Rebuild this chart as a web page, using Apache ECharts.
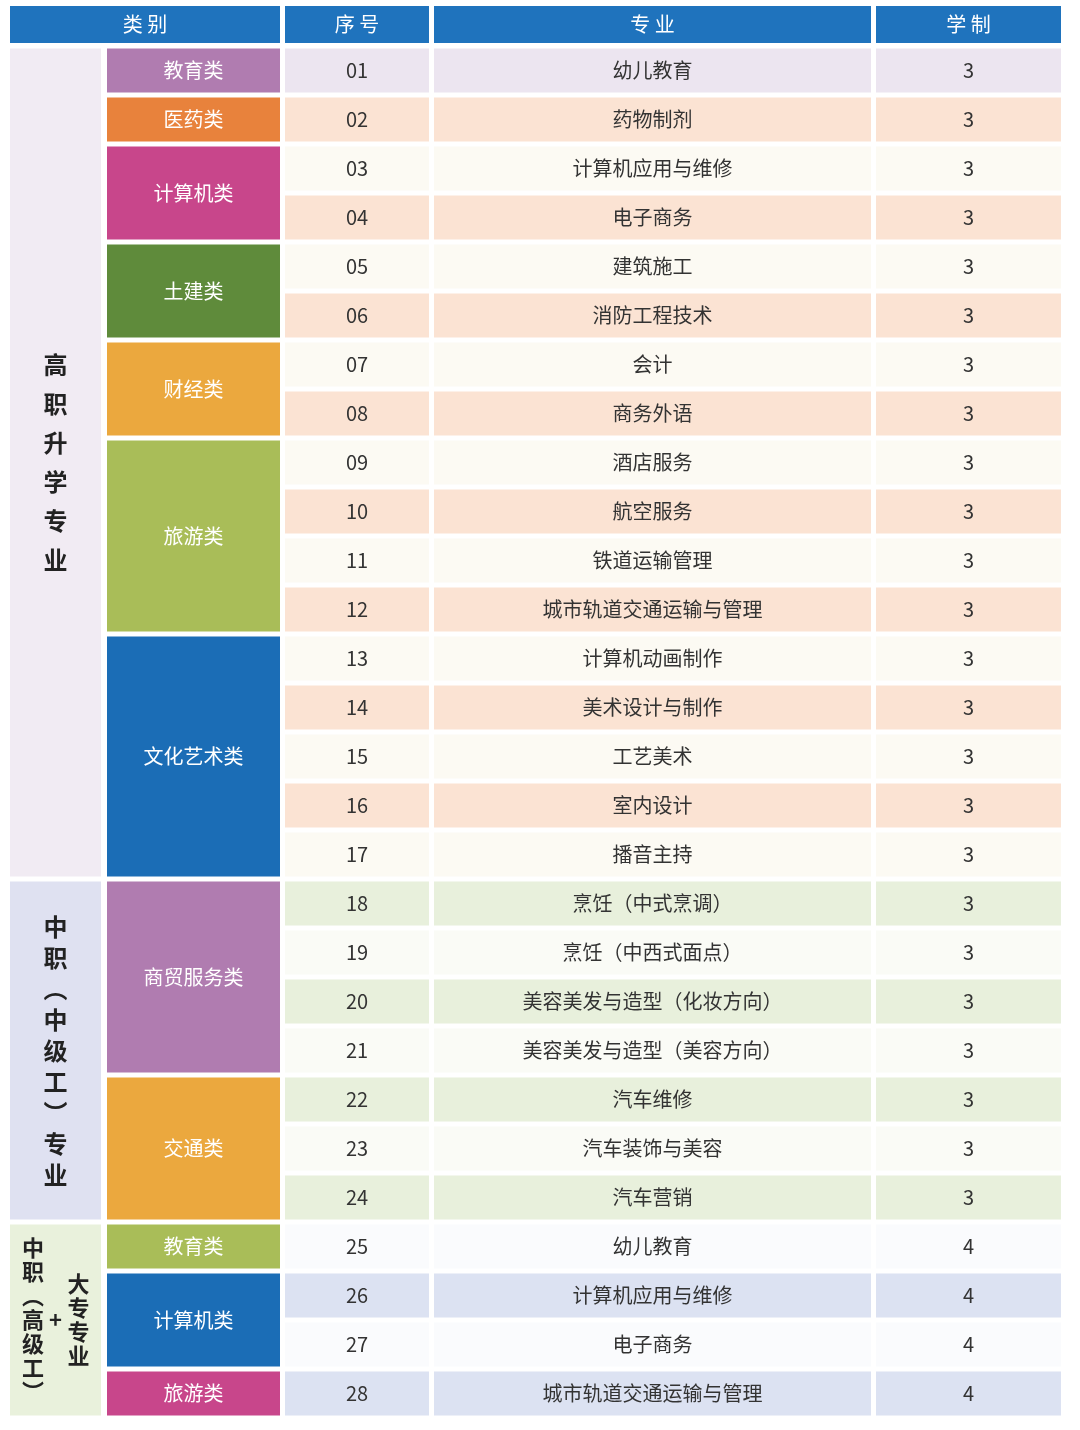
<html>
<head>
<meta charset="utf-8" />
<script src="https://cdn.jsdelivr.net/npm/echarts@6/dist/echarts.min.js"></script>
<style>
  body { margin: 0; background: #fff; }
  #main { width: 1080px; height: 1430px; }
</style>
</head>
<body>
<div id="main"></div>
<script>
// table contents
var headers = ['类 别', '序 号', '专 业', '学 制'];
var seqNos = ['01','02','03','04','05','06','07','08','09','10','11','12','13','14','15','16','17','18','19','20','21','22','23','24','25','26','27','28'];
var majors = ['幼儿教育','药物制剂','计算机应用与维修','电子商务','建筑施工','消防工程技术','会计','商务外语','酒店服务','航空服务','铁道运输管理','城市轨道交通运输与管理','计算机动画制作','美术设计与制作','工艺美术','室内设计','播音主持','烹饪（中式烹调）','烹饪（中西式面点）','美容美发与造型（化妆方向）','美容美发与造型（美容方向）','汽车维修','汽车装饰与美容','汽车营销','幼儿教育','计算机应用与维修','电子商务','城市轨道交通运输与管理'];
var years = [3,3,3,3,3,3,3,3,3,3,3,3,3,3,3,3,3,3,3,3,3,3,3,3,4,4,4,4];
var catNames = ['教育类','医药类','计算机类','土建类','财经类','旅游类','文化艺术类','商贸服务类','交通类','教育类','计算机类','旅游类'];
var catSpans = [1,1,2,2,2,4,5,4,3,1,2,1];
var catColors = ['#b07cb0','#e8823c','#c8468b','#5f8b3b','#eba83e','#a9bd58','#1b6db6','#b07cb0','#eba83e','#a9bd58','#1b6db6','#c8468b'];
var groupNames = ['高职升学专业', '中职︵中级工︶专业', ''];
var groupSpans = [17, 7, 4];
var groupColors = ['#f1ebf3', '#dfe1f1', '#e9f1dc'];
var rowFills = ['#ece5f0','#fbe3d3','#fcfaf3','#fbe3d3','#fcfaf3','#fbe3d3','#fcfaf3','#fbe3d3','#fcfaf3','#fbe3d3','#fcfaf3','#fbe3d3','#fcfaf3','#fbe3d3','#fcfaf3','#fbe3d3','#fcfaf3',
  '#e8f0dc','#fafbf6','#e8f0dc','#fafbf6','#e8f0dc','#fafbf6','#e8f0dc',
  '#fafbfd','#dce2f2','#fafbfd','#dce2f2'];

// column edges (x) : group | category | seq | major | years
var cols = [[10,101],[107,280],[285,429],[434,871],[876,1061]];
var FONT = '"Noto Sans CJK SC", sans-serif';

var cells = [];
function vert(s) { return s.split('').join('\n'); }
// [x0, x1, row0, row1, fill, text, color, size, weight, lineHeight]; row -1 = header
cells.push([cols[0][0], cols[1][1], -1, -1, '#1f73bd', headers[0], '#fff', 20, 'normal', 24]);
for (var c = 1; c < 4; c++) cells.push([cols[c+1][0], cols[c+1][1], -1, -1, '#1f73bd', headers[c], '#fff', 20, 'normal', 24]);
var r = 0;
var groupLH = [39, 31, 24];
groupNames.forEach(function (g, i) {
  cells.push([cols[0][0], cols[0][1], r, r + groupSpans[i] - 1, groupColors[i], vert(g), '#222', 24, 'bold', groupLH[i]]);
  r += groupSpans[i];
});
r = 0;
catNames.forEach(function (n, i) {
  cells.push([cols[1][0], cols[1][1], r, r + catSpans[i] - 1, catColors[i], n, '#fff', 20, 'normal', 24]);
  r += catSpans[i];
});
seqNos.forEach(function (s, i) {
  cells.push([cols[2][0], cols[2][1], i, i, rowFills[i], s, '#333', 20, 'normal', 24]);
  cells.push([cols[3][0], cols[3][1], i, i, rowFills[i], majors[i], '#333', 20, 'normal', 24]);
  cells.push([cols[4][0], cols[4][1], i, i, rowFills[i], String(years[i]), '#333', 20, 'normal', 24]);
});
// third group label split into two vertical columns
var g3 = groupSpans[0] + groupSpans[1];
cells.push([cols[0][0], 56, g3, g3 + 3, 'transparent', vert('中职︵高级工︶'), '#222', 22, 'bold', 24]);
cells.push([56, cols[0][1], g3, g3 + 3, 'transparent', '大\n专\n专\n业', '#222', 22, 'bold', 24]);
cells.push([cols[0][0], cols[0][1], g3, g3 + 3, 'transparent', '+', '#222', 22, 'bold', 24]);

var chart = echarts.init(document.getElementById('main'));
chart.setOption({
  animation: false,
  grid: { left: 0, right: 0, top: 46, bottom: 12 },
  xAxis: { type: 'value', min: 0, max: 1080, show: false },
  yAxis: { type: 'category', data: seqNos, inverse: true, show: false },
  series: [{
    type: 'custom',
    data: cells,
    renderItem: function (params, api) {
      var d = cells[params.dataIndex];
      var x0 = d[0], x1 = d[1], r0 = d[2], r1 = d[3];
      var band = api.size([0, 1])[1];
      var top, bottom, a, b;
      if (r0 < 0) {
        a = api.coord([x0, 0]); b = api.coord([x1, 0]);
        top = a[1] - band / 2 - 40;
        bottom = top + 37;
      } else {
        a = api.coord([x0, r0]); b = api.coord([x1, r1]);
        top = a[1] - band / 2 + 2.5;
        bottom = b[1] + band / 2 - 2.5;
      }
      return {
        type: 'group',
        children: [{
          type: 'rect',
          shape: { x: a[0], y: top, width: b[0] - a[0], height: bottom - top },
          style: { fill: d[4] }
        }, {
          type: 'text',
          x: (a[0] + b[0]) / 2, y: (top + bottom) / 2,
          style: {
            text: d[5], fill: d[6], fontSize: d[7], fontWeight: d[8], fontFamily: FONT,
            align: 'center', verticalAlign: 'middle', lineHeight: d[9]
          }
        }]
      };
    }
  }]
});
</script>
</body>
</html>
